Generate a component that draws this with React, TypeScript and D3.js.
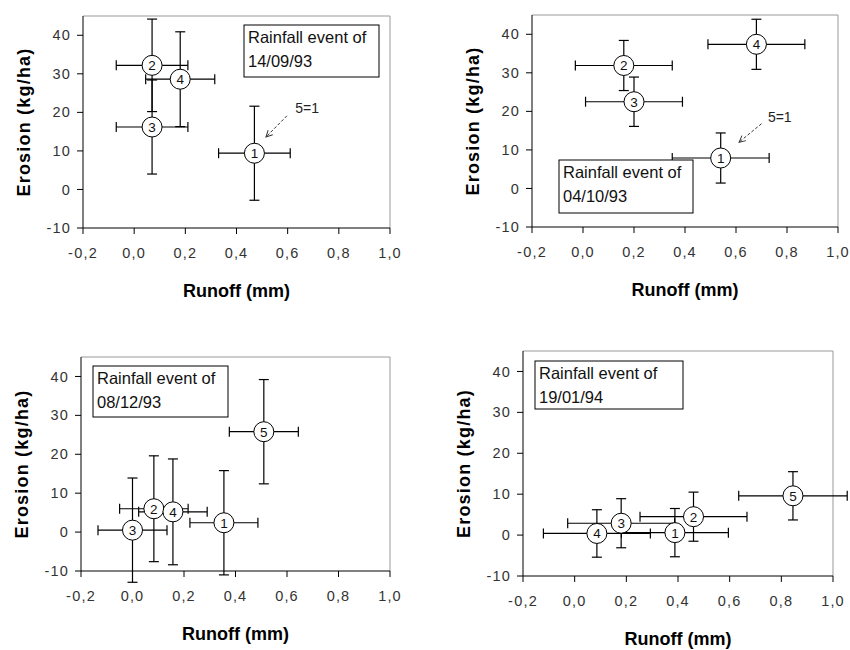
import React from "react";
import * as d3 from "d3";

// shared axis ticks
const runoffTicks = [-0.2, 0, 0.2, 0.4, 0.6, 0.8, 1.0];
const erosionTicks = [-10, 0, 10, 20, 30, 40];

// event 14/09/93
const sepLabels = ["1", "2", "3", "4"];
const sepRunoff = [0.47, 0.07, 0.07, 0.18];
const sepErosion = [9.4, 32.2, 16.2, 28.6];
const sepRunoffErr = [0.14, 0.14, 0.14, 0.135];
const sepErosionErr = [12.2, 12.0, 12.2, 12.3];

// event 04/10/93
const octLabels = ["1", "2", "3", "4"];
const octRunoff = [0.54, 0.16, 0.2, 0.68];
const octErosion = [7.9, 31.9, 22.5, 37.4];
const octRunoffErr = [0.19, 0.19, 0.19, 0.19];
const octErosionErr = [6.5, 6.5, 6.4, 6.5];

// event 08/12/93
const decLabels = ["1", "2", "3", "4", "5"];
const decRunoff = [0.355, 0.083, 0.0, 0.157, 0.51];
const decErosion = [2.4, 6.0, 0.5, 5.2, 25.8];
const decRunoffErr = [0.132, 0.133, 0.134, 0.133, 0.134];
const decErosionErr = [13.4, 13.6, 13.4, 13.6, 13.4];

// event 19/01/94
const janLabels = ["1", "2", "3", "4", "5"];
const janRunoff = [0.388, 0.46, 0.18, 0.086, 0.845];
const janErosion = [0.6, 4.5, 2.9, 0.4, 9.6];
const janRunoffErr = [0.207, 0.207, 0.207, 0.207, 0.21];
const janErosionErr = [5.9, 6.0, 6.0, 5.8, 5.9];

const eventDates = ["14/09/93", "04/10/93", "08/12/93", "19/01/94"];

const font = "'Liberation Sans', Arial, sans-serif";

const makeRows = (labels, x, y, ex, ey) =>
  labels.map((l, i) => ({ label: l, x: x[i], y: y[i], ex: ex[i], ey: ey[i] }));

const panels = [
  {
    frame: { left: 83, top: 16, right: 390, bottom: 228 },
    rows: makeRows(sepLabels, sepRunoff, sepErosion, sepRunoffErr, sepErosionErr),
    date: eventDates[0],
    legend: { x: 244, y: 25, w: 135, h: 52 },
    note: { tx: 0.63, ty: 21, from: [0.597, 19.1], to: [0.515, 13.6] },
  },
  {
    frame: { left: 532, top: 15, right: 838, bottom: 227 },
    rows: makeRows(octLabels, octRunoff, octErosion, octRunoffErr, octErosionErr),
    date: eventDates[1],
    legend: { x: 559, y: 160, w: 134, h: 53 },
    note: { tx: 0.725, ty: 18.6, from: [0.7, 16.8], to: [0.612, 12.0] },
  },
  {
    frame: { left: 81, top: 357, right: 390, bottom: 571 },
    rows: makeRows(decLabels, decRunoff, decErosion, decRunoffErr, decErosionErr),
    date: eventDates[2],
    legend: { x: 93, y: 366, w: 135, h: 51 },
    note: null,
  },
  {
    frame: { left: 523, top: 351, right: 833, bottom: 576 },
    rows: makeRows(janLabels, janRunoff, janErosion, janRunoffErr, janErosionErr),
    date: eventDates[3],
    legend: { x: 535, y: 361, w: 148, h: 48 },
    note: null,
  },
];

const fmtRunoff = (v) => d3.format(".1f")(v).replace(".", ",").replace("−", "-");

const Panel = ({ frame, rows, date, legend, note, idx }) => {
  const x = d3.scaleLinear().domain([-0.2, 1.0]).range([frame.left, frame.right]);
  const y = d3.scaleLinear().domain([-10, 45]).range([frame.bottom, frame.top]);
  const cap = 5;
  const r = 10;
  return (
    <g>
      {/* plot frame: grey top/right, black axes */}
      <line x1={frame.left} x2={frame.right} y1={frame.top} y2={frame.top} stroke="#999" />
      <line x1={frame.right} x2={frame.right} y1={frame.top} y2={frame.bottom} stroke="#999" />
      <line x1={frame.left} x2={frame.left} y1={frame.top} y2={frame.bottom} stroke="#000" />
      <line x1={frame.left} x2={frame.right} y1={frame.bottom} y2={frame.bottom} stroke="#000" />

      {erosionTicks.map((t) => (
        <g key={"y" + t} transform={`translate(${frame.left},${y(t)})`}>
          <line x1={-6} x2={0} stroke="#000" />
          <text x={-12} dy="0.35em" textAnchor="end" fontSize={14.5} letterSpacing={1.2} fill="#333">
            {t}
          </text>
        </g>
      ))}
      {runoffTicks.map((t) => (
        <g key={"x" + t} transform={`translate(${x(t)},${frame.bottom})`}>
          <line y1={0} y2={6} stroke="#000" />
          <text y={25} dy="0.35em" textAnchor="middle" fontSize={14.5} letterSpacing={1.2} fill="#333">
            {fmtRunoff(t)}
          </text>
        </g>
      ))}

      <text
        transform={`translate(${frame.left - 59},${(frame.top + frame.bottom) / 2}) rotate(-90)`}
        textAnchor="middle"
        dy="0.35em"
        fontSize={18}
        fontWeight="bold"
        letterSpacing={1.2}
      >
        Erosion (kg/ha)
      </text>
      <text
        x={(frame.left + frame.right) / 2}
        y={frame.bottom + 63}
        textAnchor="middle"
        dy="0.35em"
        fontSize={18}
        fontWeight="bold"
      >
        Runoff (mm)
      </text>

      {/* error bars */}
      {rows.map((d, i) => (
        <g key={"e" + i} stroke="#000" strokeWidth={1.2}>
          <line x1={x(d.x - d.ex)} x2={x(d.x + d.ex)} y1={y(d.y)} y2={y(d.y)} />
          <line x1={x(d.x - d.ex)} x2={x(d.x - d.ex)} y1={y(d.y) - cap} y2={y(d.y) + cap} />
          <line x1={x(d.x + d.ex)} x2={x(d.x + d.ex)} y1={y(d.y) - cap} y2={y(d.y) + cap} />
          <line x1={x(d.x)} x2={x(d.x)} y1={y(d.y - d.ey)} y2={y(d.y + d.ey)} />
          <line x1={x(d.x) - cap} x2={x(d.x) + cap} y1={y(d.y - d.ey)} y2={y(d.y - d.ey)} />
          <line x1={x(d.x) - cap} x2={x(d.x) + cap} y1={y(d.y + d.ey)} y2={y(d.y + d.ey)} />
        </g>
      ))}
      {rows.map((d, i) => (
        <g key={"m" + i} transform={`translate(${x(d.x)},${y(d.y)})`}>
          <circle r={r} fill="#fff" stroke="#000" strokeWidth={1} />
          <text textAnchor="middle" dy="0.36em" fontSize={13.5} fill="#111">
            {d.label}
          </text>
        </g>
      ))}

      {note && (
        <g>
          <line
            x1={x(note.from[0])}
            y1={y(note.from[1])}
            x2={x(note.to[0])}
            y2={y(note.to[1])}
            stroke="#333"
            strokeDasharray="3,2"
            markerEnd={`url(#arrow${idx})`}
          />
          <text x={x(note.tx)} y={y(note.ty)} dy="0.35em" fontSize={14} fill="#222">
            5=1
          </text>
        </g>
      )}

      <rect
        x={legend.x}
        y={legend.y}
        width={legend.w}
        height={legend.h}
        fill="#fff"
        stroke="#000"
        strokeWidth={1}
      />
      <text x={legend.x + 4} y={legend.y + 18} fontSize={16.5} fill="#111">
        Rainfall event of
      </text>
      <text x={legend.x + 4} y={legend.y + 42} fontSize={16.5} fill="#111">
        {date}
      </text>
    </g>
  );
};

export default function App() {
  return (
    <svg
      width={850}
      height={650}
      style={{ position: "absolute", left: 0, top: 0, background: "#fff", fontFamily: font }}
    >
      <defs>
        {panels.map((p, i) => (
          <marker
            key={i}
            id={`arrow${i}`}
            viewBox="0 0 10 10"
            refX={9}
            refY={5}
            markerWidth={8}
            markerHeight={8}
            orient="auto"
            markerUnits="userSpaceOnUse"
          >
            <path d="M1,1 L9,5 L1,9" fill="none" stroke="#333" strokeWidth={1.2} />
          </marker>
        ))}
      </defs>
      <rect width={850} height={650} fill="#fff" />
      {panels.map((p, i) => (
        <Panel key={i} idx={i} {...p} />
      ))}
    </svg>
  );
}
